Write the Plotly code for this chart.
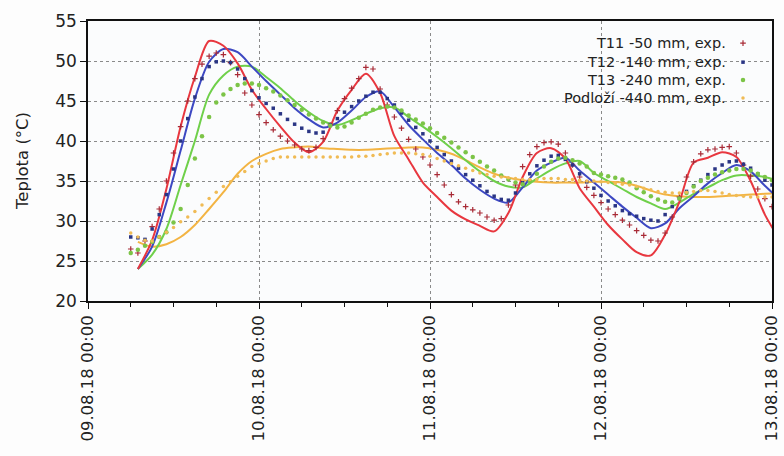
import pandas as pd
import plotly.graph_objects as go

# Measured temperatures, hourly from 09.08.18 06:00 to 13.08.18 00:00
exp_time = pd.date_range("2018-08-09 06:00", "2018-08-13 00:00", freq="1h")

t11_exp = [26.5, 26.0, 27.5, 29.3, 31.5, 35.0, 38.5, 41.8, 45.0, 47.8,
           49.6, 50.6, 51.0, 50.8, 49.8, 48.3, 46.0, 44.5, 43.3, 42.3,
           41.4, 40.6, 40.0, 39.5, 39.0, 38.8, 39.2, 40.3, 42.0, 43.8,
           45.3, 46.6, 47.8, 49.2, 49.0, 46.5, 44.5, 43.0, 41.6, 40.2,
           39.0, 38.0, 37.0, 35.8, 34.5, 33.3, 32.4, 31.8, 31.4, 31.0,
           30.5, 30.1, 30.3, 32.0, 34.5, 36.8, 38.3, 39.3, 39.8, 39.9,
           39.6, 38.5, 37.0, 35.5, 34.2, 33.2, 32.3, 31.5, 30.8, 30.1,
           29.5, 28.8, 28.2, 27.6, 27.5, 28.5, 30.5, 33.0, 35.5, 37.4,
           38.4, 38.9, 39.0, 39.2, 39.3, 38.5, 37.0, 35.6, 34.0, 32.8,
           31.8]

t12_exp = [28.0, 27.9, 27.7, 29.0, 30.8, 33.3, 36.5, 40.0, 42.8, 45.5,
           47.8, 49.3, 49.9, 50.0, 49.8, 49.0, 47.8, 46.3, 45.4, 44.7,
           44.1, 43.4, 42.7, 42.1, 41.6, 41.2, 41.0, 41.1, 42.0, 42.8,
           43.6, 44.3, 45.0, 45.6, 46.1, 46.1, 45.3, 44.5, 43.5, 42.6,
           41.7, 40.9, 40.0, 39.2, 38.3, 37.5, 36.6, 35.8, 35.1, 34.4,
           33.7, 33.1, 32.7, 32.6, 33.5, 34.8, 35.9, 36.9, 37.6, 38.1,
           38.2, 37.7, 37.0, 35.9, 34.9, 34.1, 33.2, 32.5, 31.9, 31.3,
           30.9, 30.6, 30.3, 30.1, 30.0, 30.8, 31.8, 32.8, 33.7, 34.4,
           35.1, 35.8, 36.5, 37.0, 37.4, 37.5, 37.1, 36.6, 35.9, 35.1,
           34.5]

t13_exp = [26.0, 26.4, 26.9, 27.4, 28.0, 28.6, 29.8, 31.5, 34.5, 37.8,
           40.6, 43.0, 44.8, 45.8, 46.5, 47.0, 47.2, 47.2, 47.0, 46.6,
           46.2, 45.7, 45.1, 44.5, 43.9, 43.3, 42.8, 42.3, 41.9, 41.7,
           41.8, 42.3, 42.9, 43.4, 43.9, 44.2, 44.3, 44.2, 43.8, 43.2,
           42.7, 42.2, 41.6, 41.0, 40.4, 39.8, 39.2, 38.6, 38.0, 37.4,
           36.8, 36.3, 35.7, 35.2, 34.8, 34.6, 35.0, 35.9, 36.8, 37.4,
           37.8, 37.9, 37.6, 37.2, 36.8, 36.0, 35.8, 35.6, 35.4, 35.2,
           34.8, 34.1, 33.6, 33.1, 32.7, 32.4, 32.3, 32.8, 33.5, 34.3,
           35.0, 35.4, 35.8, 36.1, 36.3, 36.5, 36.5, 36.3, 35.9, 35.5,
           35.1]

podlozi_exp = [28.5, 28.0, 27.6, 27.5, 28.0, 28.6, 29.2, 29.9, 30.5, 31.2,
               32.0, 32.8, 33.6, 34.3, 34.9, 35.6, 36.2, 36.8, 37.2, 37.5,
               37.8, 38.0, 38.0, 38.0, 38.0, 38.0, 38.0, 38.0, 38.0, 38.0,
               38.0, 38.0, 38.1, 38.1, 38.2, 38.3, 38.4, 38.5, 38.5, 38.5,
               38.4, 38.3, 38.1, 37.8, 37.5, 37.2, 36.9, 36.6, 36.3, 36.0,
               35.8, 35.6, 35.5, 35.4, 35.3, 35.2, 35.2, 35.2, 35.3, 35.3,
               35.3, 35.2, 35.2, 35.1, 35.0, 35.0, 34.9, 34.8, 34.7, 34.6,
               34.5, 34.3, 34.1, 33.9, 33.7, 33.6, 33.5, 33.5, 33.6, 33.7,
               33.8, 33.8, 33.7, 33.5, 33.3, 33.2, 33.1, 33.0, 33.0, 33.0,
               33.0]

# Simulated temperatures, every 2 hours from 09.08.18 07:00
# (the last value lies just past the right edge so the curves reach it)
sim_time = pd.date_range("2018-08-09 07:00", periods=46, freq="2h")

t11_sim = [24.0, 27.6, 34.0, 41.8, 48.0, 52.5, 51.9, 49.7, 46.4, 44.0,
           41.8, 39.8, 38.6, 39.9, 43.8, 46.4, 48.4, 46.0, 40.6, 37.7,
           34.8, 33.0, 31.3, 30.2, 29.4, 28.7, 31.0, 35.5, 38.5, 39.1,
           37.8, 34.1, 31.8, 29.5, 27.7, 26.1, 25.7, 28.3, 32.4, 37.3,
           37.9, 38.6, 38.0, 35.0, 30.8, 27.8]

t12_sim = [24.0, 26.8, 32.3, 38.8, 45.3, 49.9, 51.5, 51.1, 49.3, 47.5,
           45.8, 44.1, 42.7, 41.7, 42.3, 43.8, 45.5, 46.2, 44.2, 42.0,
           40.2, 38.5, 37.0, 35.3, 33.9, 32.8, 32.3, 34.2, 36.3, 37.3,
           37.9, 36.3, 34.8, 33.3, 31.8, 30.4, 29.1, 29.7, 31.6, 33.1,
           34.7, 36.0, 37.0, 36.2, 34.4, 32.8]

t13_sim = [24.0, 25.8, 29.0, 34.5, 40.0, 45.8, 48.2, 49.3, 49.3, 48.0,
           46.6, 45.0, 43.6, 42.5, 42.0, 42.6, 43.4, 44.1, 44.2, 43.0,
           41.8, 40.5, 39.1, 37.6, 36.2, 35.0, 34.3, 34.2, 35.3, 36.4,
           37.2, 37.5, 36.0, 35.0, 34.0, 33.0, 32.2, 31.5, 32.3, 33.4,
           34.2, 35.1, 35.7, 35.7, 35.5, 35.0]

podlozi_sim = [27.4, 26.8, 27.1, 28.0, 29.5, 31.5, 33.6, 35.9, 37.5, 38.4,
               39.0, 39.2, 39.3, 39.1, 39.0, 38.9, 38.9, 39.0, 39.1, 39.2,
               39.2, 38.9, 38.4, 37.6, 36.7, 35.9, 35.4, 35.1, 34.9, 34.8,
               34.8, 34.8, 34.9, 34.9, 34.8, 34.4, 33.8, 33.3, 33.1, 33.0,
               33.0, 33.1, 33.2, 33.3, 33.4, 33.5]

legend_labels = ["T11 -50 mm, exp.", "T12 -140 mm, exp.",
                 "T13 -240 mm, exp.", "Podloží -440 mm, exp."]

day_ticks = pd.date_range("2018-08-09", "2018-08-13", freq="D")
day_labels = [d.strftime("%d.%m.%y %H:%M") for d in day_ticks]

line_colors = ["#e8373f", "#3d48c2", "#6fd04a", "#f3b443"]
marker_styles = [
    dict(symbol="cross-thin", size=4, color="#a82a36",
         line=dict(width=1.2, color="#a82a36")),
    dict(symbol="square", size=3.5, color="#2a3584"),
    dict(symbol="circle", size=4.5, color="#7cc447"),
    dict(symbol="circle", size=3.5, color="#f0bb55"),
]

fig = go.Figure()

for y, c in zip([podlozi_sim, t13_sim, t12_sim, t11_sim], line_colors[::-1]):
    fig.add_trace(go.Scatter(x=sim_time, y=y, mode="lines",
                             line=dict(color=c, width=2, shape="spline", smoothing=0.8),
                             showlegend=False, hoverinfo="skip"))

for y, m in zip([t11_exp, t12_exp, t13_exp, podlozi_exp], marker_styles):
    fig.add_trace(go.Scatter(x=exp_time, y=y, mode="markers", marker=m,
                             showlegend=False))

# Legend: right-aligned labels with the marker after the text
legend_rows = [0.921, 0.853, 0.789, 0.725]
for label, m, ry in zip(legend_labels, marker_styles, legend_rows):
    fig.add_trace(go.Scatter(x=[0.9576], y=[ry], xaxis="x2", yaxis="y2",
                             mode="markers", marker=m, showlegend=False,
                             hoverinfo="skip"))
    fig.add_annotation(text=label, xref="paper", yref="paper", x=0.936, y=ry,
                       xanchor="right", yanchor="middle", showarrow=False,
                       font=dict(family="DejaVu Sans", size=14.5, color="#222"))

fig.add_annotation(text="Teplota (°C)", xref="paper", yref="paper",
                   x=-0.0965, y=0.5, textangle=-90, showarrow=False,
                   xanchor="center", yanchor="middle",
                   font=dict(family="DejaVu Sans", size=16.5, color="#222"))

axis_common = dict(showline=True, linecolor="#111", linewidth=1.5, mirror=True,
                   ticks="outside", tickcolor="#111", ticklen=6, tickwidth=1.2,
                   showgrid=True, gridcolor="#8a8a8a", griddash="dot", gridwidth=1,
                   zeroline=False, automargin=False)

fig.update_layout(
    width=784, height=456,
    margin=dict(l=88, r=12, t=21, b=155),
    paper_bgcolor="#fdfdfd", plot_bgcolor="#fbfcfd",
    xaxis=dict(axis_common, type="date",
               range=["2018-08-09 00:00", "2018-08-13 00:00"],
               tickmode="array", tickvals=day_ticks, ticktext=day_labels,
               tickangle=-90,
               tickfont=dict(family="DejaVu Sans", size=16.5, color="#222"),
               minor=dict(dtick=6 * 3600 * 1000, ticks="outside", ticklen=4,
                          tickcolor="#111", showgrid=False)),
    yaxis=dict(axis_common, range=[20, 55], dtick=5, tick0=20,
               tickfont=dict(family="DejaVu Sans", size=17, color="#222")),
    xaxis2=dict(overlaying="x", range=[0, 1], visible=False),
    yaxis2=dict(overlaying="y", range=[0, 1], visible=False),
    showlegend=False,
)

fig.write_html("out.html")
